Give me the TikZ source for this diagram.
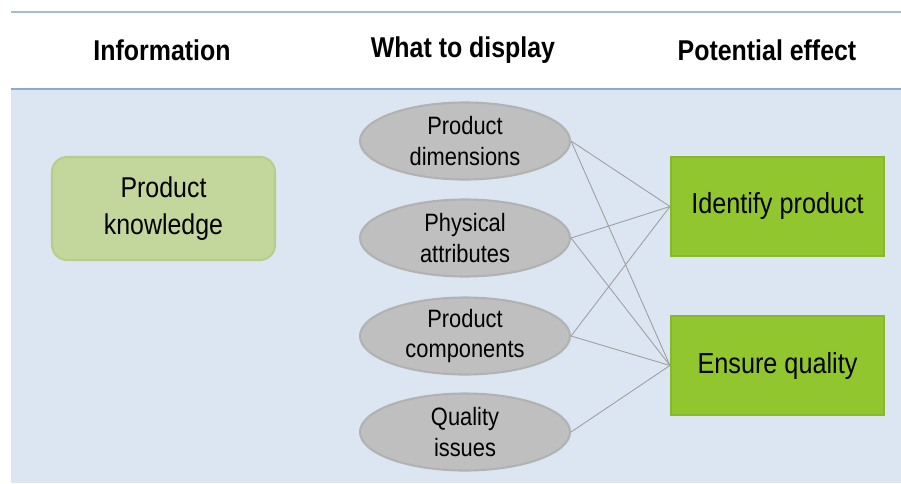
\documentclass[tikz,border=0pt]{standalone}
\usepackage{fontspec}
\setmainfont{Liberation Sans}[FakeStretch=0.87]
\usetikzlibrary{shapes.geometric}
\definecolor{bgblue}{HTML}{DCE6F2}
\definecolor{ruleblue}{HTML}{8EAAD1}
\definecolor{infogreen}{HTML}{C3D69B}
\definecolor{infoborder}{HTML}{B7CE8A}
\definecolor{effgreen}{HTML}{92C62F}
\definecolor{effborder}{HTML}{86B82B}
\definecolor{itemgray}{HTML}{BFBFBF}
\definecolor{itemborder}{HTML}{B2B2B2}
\begin{document}
\begin{tikzpicture}
    [%%%%%%%%%%%%%%%%%%%%%%%%%%%%%%
        x=0.02cm, y=-0.02cm,
        head/.style={font=\fontsize{16.3}{19}\selectfont\bfseries},
        info/.style={rectangle, rounded corners=0.3cm, fill=infogreen, draw=infoborder, line width=1.2pt,
            minimum width=4.46cm, minimum height=2.06cm, align=center,
            font=\fontsize{16.3}{21}\selectfont},
        item/.style={ellipse, fill=itemgray, draw=itemborder, line width=1.2pt, inner sep=0pt,
            minimum width=4.2cm, minimum height=1.54cm, align=center,
            font=\fontsize{14.3}{17.6}\selectfont},
        effect/.style={rectangle, fill=effgreen, draw=effborder, line width=1.2pt,
            minimum width=4.26cm, minimum height=1.98cm, font=\fontsize{16.5}{19}\selectfont},
        link/.style={draw=gray!75, line width=0.5pt},
    ]%%%%%%%%%%%%%%%%%%%%%%%%%%%%%%
\useasboundingbox (0,0) rectangle (901,483);
\fill[bgblue] (11,89) rectangle (901,483);
\draw[ruleblue!80, line width=1pt] (11,12) -- (901,12);
\draw[ruleblue, line width=1.6pt] (11,89) -- (901,89);

\node[head] (hinfo) at (162,50) {Information};
\node[head] (hwhat) at (463,50) {What to display};
\node[head] (heff) at (767,50) {Potential effect};

\node[info] (pk) at (163.5,208.5) {Product\\knowledge};

\node[item] (pd) at (465,141) {Product\\dimensions};
\node[item] (pa) at (465,238) {Physical\\attributes};
\node[item] (pc) at (465,336) {Product\\components};
\node[item] (qi) at (465,432) {Quality\\issues};

\node[effect] (ip) at (777.5,206.5) {Identify product};
\node[effect] (eq) at (777.5,365.5) {Ensure quality};

\draw[link] (pd.east) -- (ip.west);
\draw[link] (pd.east) -- (eq.west);
\draw[link] (pa.east) -- (ip.west);
\draw[link] (pa.east) -- (eq.west);
\draw[link] (pc.east) -- (ip.west);
\draw[link] (pc.east) -- (eq.west);
\draw[link] (qi.east) -- (eq.west);
\end{tikzpicture}
\end{document}
